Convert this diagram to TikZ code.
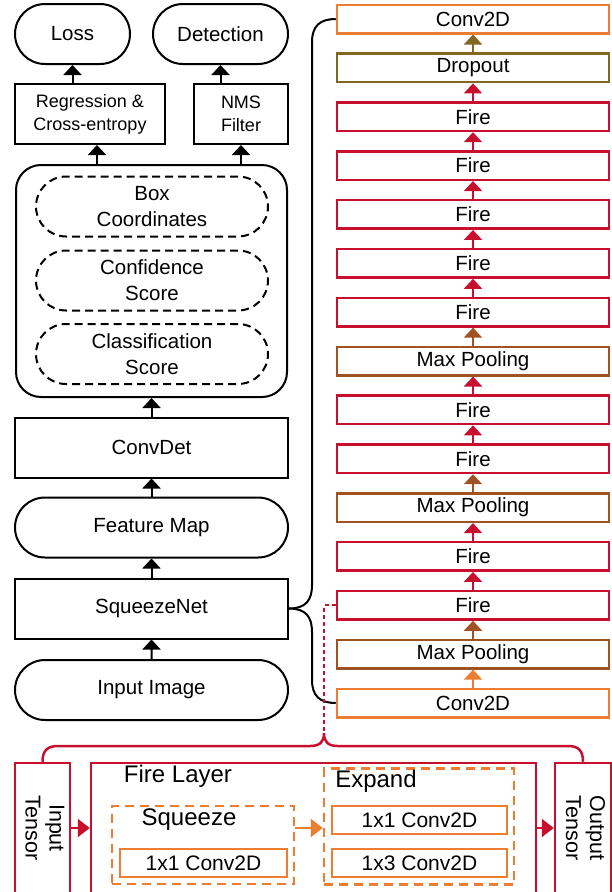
\documentclass[tikz,border=0pt]{standalone}
\usepackage{fontspec}
\usepackage{graphicx}
\setmainfont{Liberation Sans}
\usetikzlibrary{arrows.meta,shapes.misc}
\definecolor{convorange}{RGB}{237,125,49}
\definecolor{poolbrown}{RGB}{160,82,34}
\definecolor{dropolive}{RGB}{133,102,32}
\definecolor{firered}{RGB}{200,16,46}
\tikzset{
    blk/.style={draw,line width=2pt,minimum height=60pt,inner sep=0pt,align=center,font=\fontsize{20.5}{26}\selectfont},
    pill/.style={blk,rounded rectangle},
    dpill/.style={pill,dash pattern=on 8pt off 5pt,minimum width=232pt},
    layer/.style={draw,line width=2.5pt,minimum width=272pt,minimum height=28.5pt,inner sep=0pt,font=\fontsize{20.5}{24}\selectfont},
    arr/.style={-{Triangle[length=10pt,width=18pt]},line width=2pt},
    bigarr/.style={-{Triangle[length=12pt,width=18pt]},line width=2.5pt},
    fbox/.style={draw=firered,line width=2.5pt,inner sep=0pt,minimum height=130pt,font=\fontsize{21.5}{24}\selectfont},
    obox/.style={draw=convorange,line width=2.5pt,inner sep=0pt,font=\fontsize{21}{24}\selectfont},
    odash/.style={obox,dash pattern=on 9pt off 6pt},
    lbl/.style={inner sep=0pt,font=\fontsize{24}{28}\selectfont}
}
\begin{document}
\begin{tikzpicture}[x=1pt,y=-1pt]
    \clip (0,0) rectangle (612,892);
    % detector (left)
    \node[pill,minimum width=115pt] (loss) at (72.5,34) {Loss};
    \node[pill,minimum width=135pt] (det) at (220.5,34) {Detection};
    \node[blk,minimum width=150pt,font=\fontsize{18}{23}\selectfont] (reg) at (90,114) {Regression \&\\Cross-entropy};
    \node[blk,minimum width=94pt,font=\fontsize{18}{23}\selectfont] (nms) at (241,114) {NMS\\Filter};
    \node[draw,line width=2pt,rounded corners=25pt,minimum width=271pt,minimum height=232pt] (head) at (151.5,281) {};
    \node[dpill] (boxc) at (152,206.5) {Box\\Coordinates};
    \node[dpill] (conf) at (152,280.5) {Confidence\\Score};
    \node[dpill] (cls) at (152,354) {Classification\\Score};
    \node[blk,minimum width=273pt] (convdet) at (151.5,447.5) {ConvDet};
    \node[pill,minimum width=273pt] (fmap) at (151.5,527.5) {Feature Map};
    \node[blk,minimum width=273pt] (sq) at (151.5,608.5) {SqueezeNet};
    \node[pill,minimum width=273pt] (img) at (151.5,690) {Input Image};
    \coordinate (rx) at (97,0);
    \draw[arr] (img) -- (sq);
    \draw[arr] (sq) -- (fmap);
    \draw[arr] (fmap) -- (convdet);
    \draw[arr] (convdet) -- (head);
    \draw[arr] (head.north -| rx) -- (reg.south -| rx);
    \draw[arr] (head.north -| nms.south) -- (nms.south);
    \draw[arr] (reg.north -| loss.south) -- (loss.south);
    \draw[arr] (nms.north -| det.south) -- (det.south);
    % squeezenet layers (right)
    \foreach \name/\col [count=\i from 0,remember=\col as \prev (initially black)] in
        {Conv2D/convorange,Max Pooling/poolbrown,Fire/firered,Fire/firered,Max Pooling/poolbrown,
         Fire/firered,Fire/firered,Max Pooling/poolbrown,Fire/firered,Fire/firered,Fire/firered,
         Fire/firered,Fire/firered,Dropout/dropolive,Conv2D/convorange}{
        \node[layer,draw=\col] (l\i) at (473,703-48.857*\i) {\name};
        \ifnum\i>0
            \pgfmathtruncatemacro\j{\i-1}
            \draw[arr,\prev] (l\j) -- (l\i);
        \fi
    }
    \draw[line width=2pt] (sq.east) .. controls (306,608.5) and (312,600) .. (312,585) -- (312,42) .. controls (312,26) and (320,19) .. (l14.west);
    \draw[line width=2pt] (sq.east) .. controls (306,608.5) and (312,617) .. (312,632) -- (312,680) .. controls (312,696) and (320,703) .. (l0.west);
    % fire layer (bottom)
    \coordinate (tip) at (324,733);
    \draw[firered,line width=2pt,dash pattern=on 4pt off 3pt] (l2.west) -| (tip);
    \node[fbox,minimum width=55pt] (intens) at (42.5,828) {\rotatebox{-90}{\begin{tabular}{@{}c@{}}Input\\Tensor\end{tabular}}};
    \node[fbox,minimum width=445pt] (fl) at (313.5,828) {};
    \node[fbox,minimum width=56pt] (outtens) at (583,828) {\rotatebox{-90}{\begin{tabular}{@{}c@{}}Output\\Tensor\end{tabular}}};
    \draw[firered,line width=2.5pt] (intens.north) .. controls (42.5,750) and (48,746) .. (58,746) -- (310,746)
        .. controls (320,746) and (324,742) .. (tip) .. controls (324,742) and (328,746) .. (338,746) -- (568,746)
        .. controls (578,746) and (583,750) .. (outtens.north);
    \node[lbl] (fltitle) at (178,776) {Fire Layer};
    \node[odash,minimum width=182pt,minimum height=78pt] (sqz) at (203,845) {};
    \node[lbl] (sqzt) at (189,820) {Squeeze};
    \node[obox,minimum width=167pt,minimum height=28pt] (sqc) at (203.5,863) {1x1 Conv2D};
    \node[odash,minimum width=190pt,minimum height=116pt] (expd) at (419,826.5) {};
    \node[lbl] (expt) at (376,781) {Expand};
    \node[obox,minimum width=175pt,minimum height=28pt] (ex1) at (419.5,820) {1x1 Conv2D};
    \node[obox,minimum width=175pt,minimum height=28pt] (ex3) at (419.5,863) {1x3 Conv2D};
    \draw[bigarr,firered] (intens) -- (fl);
    \draw[bigarr,firered] (fl) -- (outtens);
    \draw[bigarr,convorange] (sqz.east |- fl.center) -- (expd.west |- fl.center);
\end{tikzpicture}
\end{document}
